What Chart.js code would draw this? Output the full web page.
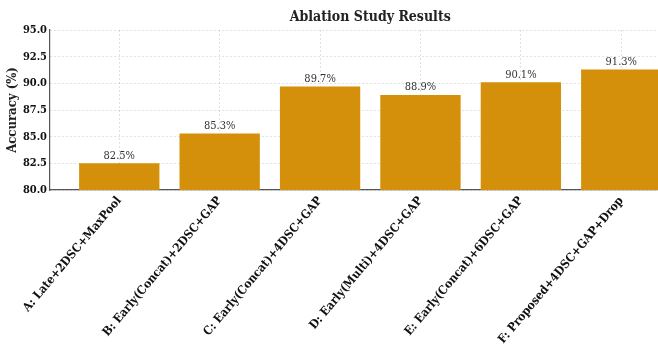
<!DOCTYPE html>
<html>
<head>
<meta charset="utf-8">
<script src="https://cdn.jsdelivr.net/npm/chart.js@4.4.1/dist/chart.umd.min.js"></script>
<style>
  html, body { margin: 0; padding: 0; background: #fff; overflow: hidden; }
</style>
</head>
<body>
<canvas id="c" width="658" height="354"></canvas>
<script>
// Ablation variants and their test accuracy (%)
const categories = [
  'A: Late+2DSC+MaxPool',
  'B: Early(Concat)+2DSC+GAP',
  'C: Early(Concat)+4DSC+GAP',
  'D: Early(Multi)+4DSC+GAP',
  'E: Early(Concat)+6DSC+GAP',
  'F: Proposed+4DSC+GAP+Drop'
];
const accuracy = [82.5, 85.3, 89.7, 88.9, 90.1, 91.3];
const yTicks = [80.0, 82.5, 85.0, 87.5, 90.0, 92.5, 95.0];
const chartTitle = 'Ablation Study Results';

const FONT = '"DejaVu Serif Condensed", "DejaVu Serif", serif';
const barColor = '#D4900A';

// Value above each bar, and the title centred over the full axis span
const annotate = {
  id: 'annotate',
  afterDatasetsDraw(chart) {
    const { ctx, scales } = chart;
    const meta = chart.getDatasetMeta(0);
    ctx.save();
    ctx.font = '11px ' + FONT;
    ctx.fillStyle = '#333';
    ctx.textAlign = 'center';
    ctx.textBaseline = 'bottom';
    meta.data.forEach((bar, i) => {
      ctx.fillText(accuracy[i].toFixed(1) + '%', bar.x, bar.y - 2);
    });
    // axis spans -0.69 .. 5.69; the canvas cuts it on the right
    const cx = scales.x.getPixelForValue((categories.length - 1) / 2);
    ctx.font = 'bold 14px ' + FONT;
    ctx.fillStyle = '#222';
    ctx.textBaseline = 'alphabetic';
    ctx.fillText(chartTitle, cx, 21);
    ctx.restore();
  }
};

new Chart(document.getElementById('c'), {
  type: 'bar',
  data: {
    datasets: [{
      data: accuracy.map((v, i) => ({ x: i, y: v })),
      backgroundColor: barColor,
      borderWidth: 0,
      barPercentage: 0.8,
      categoryPercentage: 1.0
    }]
  },
  options: {
    responsive: false,
    animation: false,
    layout: { padding: { top: 30, right: 0, left: 0, bottom: 0 } },
    plugins: {
      legend: { display: false },
      tooltip: { enabled: false },
      title: { display: false }
    },
    scales: {
      x: {
        type: 'linear',
        offset: false,
        min: -0.69,
        max: 5.366,
        z: 1,
        afterBuildTicks(scale) {
          scale.ticks = categories.map((c, i) => ({ value: i }));
        },
        afterFit(scale) { scale.height = 164; },
        ticks: {
          minRotation: 50,
          maxRotation: 50,
          autoSkip: false,
          padding: 4,
          color: '#111',
          font: { family: FONT, size: 12, weight: 'bold' },
          callback: (v) => categories[v]
        },
        grid: {
          offset: false,
          color: 'rgba(0,0,0,0.12)',
          drawTicks: false
        },
        border: { display: true, color: '#555', width: 1.2, dash: [2, 2] }
      },
      y: {
        min: 80,
        max: 95,
        z: 1,
        afterBuildTicks(scale) {
          scale.ticks = yTicks.map(v => ({ value: v }));
        },
        afterFit(scale) { scale.width = 50; },
        ticks: {
          color: '#111',
          padding: 3,
          font: { family: FONT, size: 11, weight: 'bold' },
          callback: (v) => Number(v).toFixed(1)
        },
        grid: {
          color: 'rgba(0,0,0,0.12)',
          drawTicks: false
        },
        border: { display: true, color: '#555', width: 1.2, dash: [2, 2] },
        title: {
          display: true,
          text: 'Accuracy (%)',
          color: '#222',
          font: { family: FONT, size: 13, weight: 'bold' },
          padding: { top: 5, bottom: 0 }
        }
      }
    }
  },
  plugins: [annotate]
});
</script>
</body>
</html>
